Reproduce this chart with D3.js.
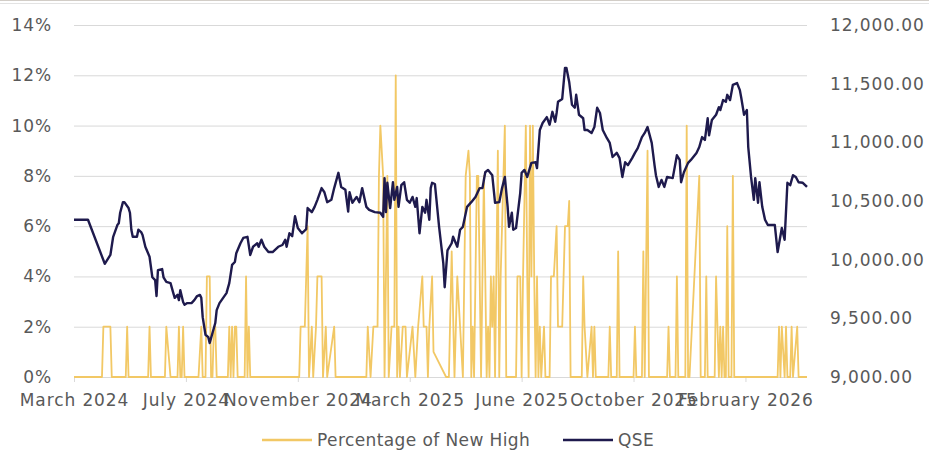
<!DOCTYPE html>
<html>
<head>
	<meta http-equiv="Content-Type" content="text/html;charset=utf-8">
	<title>Percentage of New High vs QSE</title>
	<script src="https://cdn.jsdelivr.net/npm/d3@7"></script>
	<style type="text/css">
		body { margin: 0; background: #fff; }
		text { font-family: "DejaVu Sans", sans-serif; fill: #595959; }
		.grid line { stroke: #d9d9d9; stroke-width: 1px; }
		.grid path { display: none; }
	</style>
</head>
<body>
	<svg width="929" height="460"></svg>

	<script type="text/javascript">
		// trading-day index, a label every 80 sessions
		var tickDays = [0, 80, 160, 240, 320, 400, 480];
		var tickLabels = ["March 2024", "July 2024", "November 2024", "March 2025", "June 2025", "October 2025", "February 2026"];
		var lastDay = 524;

		var pctTicks = [0, 2, 4, 6, 8, 10, 12, 14];
		var qseTicks = [9000, 9500, 10000, 10500, 11000, 11500, 12000];

		// QSE index
		var qseDays = [0,10,22,26,28,31,32,33,35,36,39,40,41,42,45,46,48,49,51,54,56,58,59,60,63,64,66,69,71,72,74,75,76,78,79,81,84,86,88,90,91,92,94,96,97,99,101,102,104,
			109,111,113,115,116,119,121,124,126,128,131,132,134,136,139,142,146,149,151,152,154,156,158,160,163,166,167,170,172,174,177,179,181,184,186,189,191,194,196,197,199,202,204,206,209,211,
			215,219,221,222,223,224,226,228,229,231,232,234,236,238,240,242,244,245,247,249,251,252,254,255,256,258,261,264,265,267,270,271,274,276,278,281,284,287,290,292,294,296,299,301,304,306,308,310,311,313,314,316,319,320,
			322,324,327,330,331,333,335,338,340,342,344,345,346,349,351,352,354,356,358,359,361,364,365,367,370,372,374,376,378,381,383,385,388,390,392,394,396,399,401,403,406,408,410,413,415,416,418,420,422,
			424,428,431,433,434,436,439,441,445,447,449,451,453,454,456,459,461,462,464,466,467,469,471,474,476,477,479,481,482,484,486,487,489,490,492,494,496,501,503,506,508,510,512,514,516,518,521,524];
		var qseValues = [10340,10340,9965,10040,10195,10295,10310,10400,10490,10490,10440,10400,10255,10195,10195,10255,10235,10210,10110,10025,9850,9825,9690,9910,9920,9850,9810,9800,9715,9675,9700,9655,9740,9640,9615,9630,9630,9655,9690,9700,9675,9510,9360,9340,9290,9375,9460,9570,9630,
			9715,9800,9955,9980,10055,10140,10185,10195,10040,10110,10140,10110,10170,10110,10065,10065,10110,10125,10170,10110,10225,10200,10370,10270,10225,10260,10440,10405,10450,10510,10610,10575,10490,10510,10610,10740,10620,10595,10410,10575,10485,10535,10490,10610,10450,10425,
			10405,10400,10365,10695,10405,10655,10440,10660,10510,10620,10450,10635,10660,10510,10485,10535,10450,10525,10225,10450,10400,10510,10340,10610,10655,10645,10280,9970,9765,10080,10140,10195,10110,10255,10280,10450,10490,10535,10610,10610,10745,10765,10720,10485,10490,10610,10705,10450,10280,10400,10255,10270,10570,10740,
			10765,10705,10825,10830,10780,11105,11165,11215,11150,11260,11175,11250,11345,11370,11635,11635,11515,11320,11295,11405,11235,11205,11105,11105,11080,11130,11295,11250,11105,11035,10995,10875,10910,10865,10705,10830,10805,10865,10910,10950,11045,11080,11130,10995,10805,10720,10620,10680,10620,
			10705,10695,10890,10850,10660,10745,10825,10850,10910,10960,11045,11020,11205,11060,11190,11235,11300,11275,11360,11345,11405,11360,11490,11505,11445,11380,11235,11275,10960,10705,10510,10695,10485,10660,10450,10340,10295,10295,10065,10270,10170,10655,10635,10720,10705,10660,10655,10620];

		// Percentage of stocks at a new high (%)
		var highDays = [0,20,21,26,27,37,38,39,53,54,55,65,66,69,74,75,76,77,78,79,89,91,92,94,95,97,98,99,100,101,102,110,111,112,113,114,115,116,117,122,123,124,125,126,
			161,162,165,167,168,170,171,173,174,177,178,180,181,186,187,
			209,210,212,214,217,218,219,221,222,224,225,227,229,230,231,232,233,235,237,238,242,244,246,249,250,252,253,254,256,257,266,
			268,270,272,274,276,278,280,282,283,284,285,286,288,289,291,293,295,296,297,298,299,300,301,303,304,305,308,309,316,317,319,320,321,323,324,325,326,327,328,329,330,331,332,333,334,336,337,340,341,343,345,346,349,351,353,354,355,
			363,364,365,367,370,371,372,373,382,383,384,388,389,390,400,401,402,406,407,408,410,411,424,425,426,430,431,432,437,438,439,440,447,448,451,452,453,458,459,460,461,462,463,464,465,466,467,468,470,471,472,503,504,505,506,508,509,510,512,513,514,517,518,524];
		var highValues = [0,0,2,2,0,0,2,0,0,2,0,0,2,0,0,2,0,0,2,0,0,2,0,0,4,4,0,0,2,2,0,0,2,0,2,0,2,2,0,0,4,0,2,0,
			0,2,2,6,0,2,0,2,4,4,0,2,0,2,0,
			0,2,0,2,2,8,10,8,0,8,0,2,2,12,0,2,0,2,2,0,2,0,2,4,2,2,0,2,4,1,0,
			0,5,0,4,2,0,8,9,8,0,2,0,8,8,0,8,0,2,0,4,2,4,0,9,0,4,10,0,0,4,4,0,4,10,4,0,10,4,10,4,0,4,0,2,0,2,0,0,4,4,6,2,2,6,6,7,0,
			0,4,2,0,2,0,2,0,0,2,0,0,5,0,0,2,0,0,5,0,9,0,0,2,0,0,4,0,0,10,0,0,8,0,0,4,0,0,4,2,0,2,0,2,0,0,6,0,0,8,0,0,2,0,2,0,2,0,0,2,0,2,0,0];

		var svg = d3.select("svg");
		var plotLeft = 74, plotRight = 807, plotTop = 25, plotBottom = 377;

		var x = d3.scaleLinear().domain([0, lastDay]).range([plotLeft, plotRight]);
		var yPct = d3.scaleLinear().domain([0, 14]).range([plotBottom, plotTop]);
		var yQse = d3.scaleLinear().domain([9000, 12000]).range([plotBottom, plotTop]);

		// thin frame at the very top
		svg.append("line").attr("x1", 0).attr("x2", 929).attr("y1", 0.5).attr("y2", 0.5)
			.attr("stroke", "#d2cdc7");
		svg.append("line").attr("x1", 0).attr("x2", 929).attr("y1", 3.5).attr("y2", 3.5)
			.attr("stroke", "#e3e3e3");

		// gridlines
		svg.append("g").attr("class", "grid")
			.attr("transform", "translate(" + plotLeft + ",0)")
			.call(d3.axisLeft(yPct).tickValues(pctTicks.slice(1)).tickSize(-(plotRight - plotLeft)).tickFormat(""));

		// left axis labels
		var gl = svg.append("g")
			.attr("transform", "translate(" + plotLeft + ",0)")
			.call(d3.axisLeft(yPct).tickValues(pctTicks).tickSize(0).tickPadding(22)
				.tickFormat(function (d) { return d + "%"; }));
		gl.select(".domain").remove();

		// right axis labels
		var gr = svg.append("g")
			.attr("transform", "translate(" + plotRight + ",0)")
			.call(d3.axisRight(yQse).tickValues(qseTicks).tickSize(0).tickPadding(23)
				.tickFormat(d3.format(",.2f")));
		gr.select(".domain").remove();

		// bottom axis
		var gb = svg.append("g")
			.attr("transform", "translate(0," + plotBottom + ")")
			.call(d3.axisBottom(x).tickValues(tickDays).tickSize(5).tickPadding(12)
				.tickFormat(function (d, i) { return tickLabels[i]; }));
		gb.select(".domain").attr("stroke", "#d9d9d9").attr("d", "M" + plotLeft + ",0.5H" + plotRight);
		gb.selectAll(".tick line").attr("stroke", "#d9d9d9");

		svg.selectAll("g text")
			.style("font-size", "17px")
			.style("letter-spacing", "0.9px")
			.attr("fill", "#595959");

		var highLine = d3.line()
			.x(function (d, i) { return x(highDays[i]); })
			.y(function (d) { return yPct(d); });
		svg.append("path")
			.attr("d", highLine(highValues))
			.attr("fill", "none")
			.attr("stroke", "#f2c865")
			.attr("stroke-width", 1.8)
			.attr("stroke-linejoin", "round");

		var qseLine = d3.line()
			.x(function (d, i) { return x(qseDays[i]); })
			.y(function (d) { return yQse(d); });
		svg.append("path")
			.attr("d", qseLine(qseValues))
			.attr("fill", "none")
			.attr("stroke", "#1e1a4d")
			.attr("stroke-width", 2.4)
			.attr("stroke-linejoin", "round");

		// legend
		var legend = [
			{ name: "Percentage of New High", color: "#f2c865", x: 262 },
			{ name: "QSE", color: "#1e1a4d", x: 563 }
		];
		var lg = svg.selectAll(".legend").data(legend).enter().append("g")
			.attr("class", "legend")
			.attr("transform", function (d) { return "translate(" + d.x + ",440)"; });
		lg.append("line").attr("x1", 0).attr("x2", 50).attr("y1", 0).attr("y2", 0)
			.attr("stroke", function (d) { return d.color; })
			.attr("stroke-width", 2.4);
		lg.append("text").attr("x", 55).attr("y", 6)
			.style("font-size", "17px")
			.style("letter-spacing", "0.4px")
			.text(function (d) { return d.name; });
	</script>
</body>
</html>
